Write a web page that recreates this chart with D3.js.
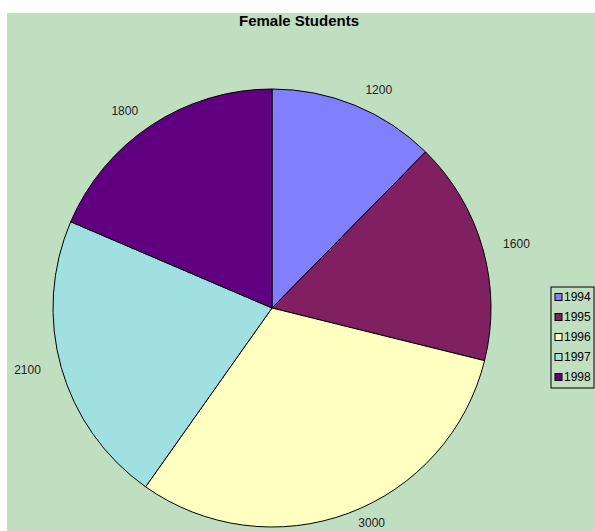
<!DOCTYPE html>
<html>
<head>
<meta charset="utf-8">
<script src="https://cdn.jsdelivr.net/npm/d3@7/dist/d3.min.js"></script>
<style>
  html, body { margin: 0; padding: 0; background: #ffffff; }
  svg { display: block; }
  text { font-family: Arial, "Liberation Sans", sans-serif; }
</style>
</head>
<body>
<svg id="chart" width="595" height="531"></svg>
<script>
// Female students enrolled per year
const years = ["1994", "1995", "1996", "1997", "1998"];
const students = [1200, 1600, 3000, 2100, 1800];
const sliceColors = ["#8080FF", "#802060", "#FFFFC0", "#A0E0E0", "#600080"];
const title = "Female Students";

const svg = d3.select("#chart");
const W = 595, H = 531;

// chart area background
svg.append("rect")
  .attr("x", 7).attr("y", 13)
  .attr("width", W - 7).attr("height", H - 13)
  .attr("fill", "#C0DEC0");

svg.append("text")
  .attr("x", 299).attr("y", 26)
  .attr("text-anchor", "middle")
  .attr("font-size", "15px")
  .attr("font-weight", "bold")
  .attr("fill", "#000")
  .text(title);

const cx = 272, cy = 308, r = 219;
const color = d3.scaleOrdinal().domain(years).range(sliceColors);

const pie = d3.pie().sort(null).value(d => d.value);
const data = years.map((y, i) => ({ year: y, value: students[i] }));
const arcs = pie(data);
const arc = d3.arc().innerRadius(0).outerRadius(r);

const g = svg.append("g").attr("transform", `translate(${cx},${cy})`);
g.selectAll("path.slice")
  .data(arcs)
  .join("path")
  .attr("class", "slice")
  .attr("d", arc)
  .attr("fill", d => color(d.data.year))
  .attr("stroke", "#000")
  .attr("stroke-width", 1);

// value labels set beside the rim, anchored away from the pie
const labelR = r + 10;
g.selectAll("text.val")
  .data(arcs)
  .join("text")
  .attr("class", "val")
  .each(function (d) {
    const a = (d.startAngle + d.endAngle) / 2;
    const s = Math.sin(a), c = Math.cos(a);
    const side = s >= 0 ? 1 : -1;
    const x = s * labelR + side * (4 + 7 * Math.abs(s));
    const y = -c * labelR - Math.max(c, 0) * 7;
    d3.select(this)
      .attr("x", x).attr("y", y)
      .attr("text-anchor", side > 0 ? "start" : "end");
  })
  .attr("dy", "0.35em")
  .attr("font-size", "12px")
  .attr("fill", "#222")
  .text(d => d.data.value);

// legend
const lg = svg.append("g").attr("transform", "translate(551,287)");
lg.append("rect")
  .attr("x", 0).attr("y", 0)
  .attr("width", 43).attr("height", 101)
  .attr("fill", "#C0DEC0")
  .attr("stroke", "#000").attr("stroke-width", 1);
const row = lg.selectAll("g.item")
  .data(years)
  .join("g")
  .attr("class", "item")
  .attr("transform", (d, i) => `translate(0,${10 + i * 20})`);
row.append("rect")
  .attr("x", 4).attr("y", -3.5)
  .attr("width", 7).attr("height", 7)
  .attr("fill", d => color(d))
  .attr("stroke", "#000").attr("stroke-width", 1);
row.append("text")
  .attr("x", 13).attr("y", 0)
  .attr("dy", "0.35em")
  .attr("font-size", "12px")
  .attr("fill", "#000")
  .text(d => d);
</script>
</body>
</html>
